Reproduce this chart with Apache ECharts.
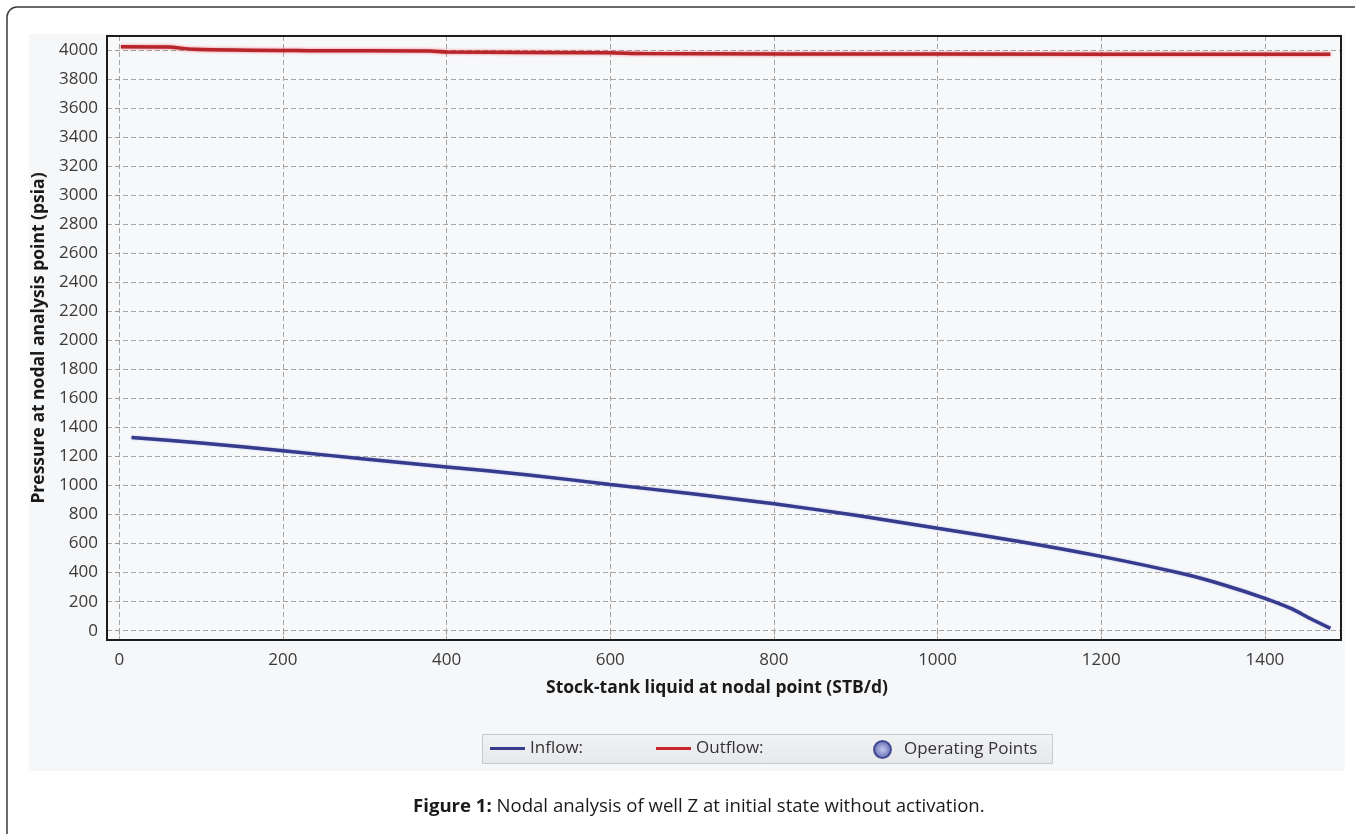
<!DOCTYPE html>
<html><head><meta charset="utf-8">
<script src="https://cdn.jsdelivr.net/npm/echarts@6/dist/echarts.min.js"></script>
<style>html,body{margin:0;padding:0;background:#fff}#c{width:1355px;height:834px}</style>
</head><body><div id="c"></div>
<script>
// Inflow (IPR) curve: liquid rate (STB/d) vs pressure (psia)
const inflowQ = [15, 100, 200, 300, 400, 500, 600, 700, 800, 900, 1000, 1100, 1200, 1300, 1350, 1400, 1431, 1456, 1480];
const inflowP = [1331, 1293, 1240, 1182, 1128, 1073, 1007, 943, 874, 795, 706, 615, 512, 392, 315, 223, 155, 82, 16];
// Outflow (VLP) curve
const outflowQ = [2, 60, 90, 230, 380, 400, 600, 640, 1000, 1480];
const outflowP = [4022, 4020, 4005, 3995, 3992, 3985, 3981, 3975, 3972, 3970];
// Operating points (none: the curves do not intersect)
const opQ = [];
const opP = [];
const seriesNames = ['Inflow:', 'Outflow:', 'Operating Points'];
const xTitle = 'Stock-tank liquid at nodal point (STB/d)';
const yTitle = 'Pressure at nodal analysis point (psia)';

const pairs = (a, b) => a.map((v, i) => [v, b[i]]);
const FONT = '"Open Sans", "Noto Sans", sans-serif';
const LINE_ICON = 'path://M0,0 L35,0 L35,3 L0,3 Z';

const legendBase = {
  top: 740, padding: 0, itemGap: 0, itemWidth: 35, itemHeight: 15,
  textStyle: { fontFamily: FONT, fontSize: 17, color: '#333333' }
};

const chart = echarts.init(document.getElementById('c'), null, { renderer: 'canvas' });
chart.setOption({
  animation: false,
  backgroundColor: '#ffffff',
  textStyle: { fontFamily: FONT },
  graphic: [
    { type: 'rect', z: -100, shape: { x: 7, y: 7, width: 1365, height: 845, r: 10 },
      style: { fill: '#ffffff', stroke: '#3a3a3a', lineWidth: 1.5 } },
    { type: 'rect', z: -90, shape: { x: 29, y: 34, width: 1316, height: 737 },
      style: { fill: '#f6f7f9' } },
    { type: 'rect', z: 100, silent: true, shape: { x: 107, y: 36, width: 1234, height: 604 },
      style: { fill: null, stroke: '#1c1c1c', lineWidth: 2 } },
    { type: 'rect', z: -80, silent: true, shape: { x: 482.5, y: 734.5, width: 570, height: 29 },
      style: {
        fill: { type: 'linear', x: 0, y: 0, x2: 0, y2: 1,
          colorStops: [{ offset: 0, color: '#f1f2f4' }, { offset: 1, color: '#e6e8eb' }] },
        stroke: '#c6cacf', lineWidth: 1 } }
  ],
  title: {
    left: 408, top: 792,
    text: '{b|Figure 1:} {n|Nodal analysis of well Z at initial state without activation.}',
    textStyle: {
      rich: {
        b: { fontFamily: FONT, fontWeight: 'bold', fontSize: 18.6, color: '#1a1a1a' },
        n: { fontFamily: FONT, fontWeight: 'normal', fontSize: 18.6, color: '#1a1a1a' }
      }
    }
  },
  grid: {
    left: 107, top: 36, width: 1234, height: 604,
    show: true, backgroundColor: '#f7f8fa', borderWidth: 0
  },
  legend: [
    Object.assign({}, legendBase, { left: 490, data: [{ name: seriesNames[0], icon: LINE_ICON }] }),
    Object.assign({}, legendBase, { left: 656, data: [{ name: seriesNames[1], icon: LINE_ICON }] }),
    Object.assign({}, legendBase, { left: 873, itemWidth: 33, itemHeight: 17, data: [{ name: seriesNames[2], icon: 'circle' }] })
  ],
  xAxis: {
    type: 'value', min: -15, max: 1493, splitNumber: 8,
    name: xTitle, nameLocation: 'middle', nameGap: 39,
    nameTextStyle: { fontFamily: FONT, fontWeight: 'bold', fontSize: 17.5, color: '#1a1a1a',
      padding: [0, 14, 0, 0] },
    axisLine: { show: false },
    axisTick: { show: true, length: 7, lineStyle: { color: '#9a9a9a', type: [4, 3] } },
    axisLabel: { showMinLabel: false, showMaxLabel: false, margin: 12,
      formatter: v => String(v),
      fontFamily: FONT, fontSize: 17, color: '#3a3a3a' },
    splitLine: { show: true, lineStyle: { color: '#a5a5a5', type: [5, 3], width: 1 } }
  },
  yAxis: {
    type: 'value', min: -64, max: 4096, splitNumber: 20,
    name: yTitle, nameLocation: 'middle', nameGap: 54,
    nameTextStyle: { fontFamily: FONT, fontWeight: 'bold', fontSize: 17.5, color: '#1a1a1a' },
    axisLine: { show: false },
    axisTick: { show: true, length: 7, lineStyle: { color: '#9a9a9a', type: [4, 3] } },
    axisLabel: { showMinLabel: false, showMaxLabel: false, margin: 9,
      formatter: v => String(v),
      fontFamily: FONT, fontSize: 17, color: '#3a3a3a' },
    splitLine: { show: true, lineStyle: { color: '#a5a5a5', type: [5, 3], width: 1 } }
  },
  series: [
    {
      name: seriesNames[0], type: 'line', symbol: 'none', smooth: 0.3,
      data: pairs(inflowQ, inflowP), color: '#363b8e',
      lineStyle: { width: 3.5, color: '#363b8e', shadowColor: 'rgba(60,70,180,0.35)', shadowBlur: 2 },
      z: 3
    },
    {
      name: seriesNames[1], type: 'line', symbol: 'none', smooth: 0.3,
      data: pairs(outflowQ, outflowP), color: '#c7282e',
      lineStyle: { width: 3.5, color: '#b8262b', shadowColor: 'rgba(230,40,50,0.6)', shadowBlur: 3 },
      z: 3
    },
    {
      name: seriesNames[2], type: 'scatter', symbol: 'circle', symbolSize: 16,
      data: pairs(opQ, opP),
      itemStyle: {
        color: { type: 'radial', x: 0.5, y: 0.5, r: 0.5,
          colorStops: [{ offset: 0, color: '#b9c0f0' }, { offset: 1, color: '#3b45a0' }] },
        borderColor: '#2c3380', borderWidth: 1
      }
    }
  ]
});
</script>
</body></html>
